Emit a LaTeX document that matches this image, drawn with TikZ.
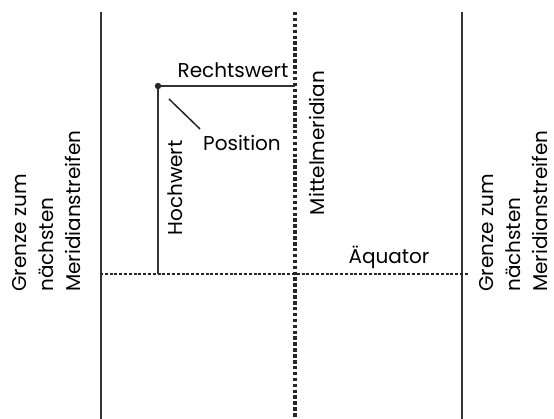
\documentclass[tikz,border=0pt]{standalone}
\usepackage{fontspec}
\setmainfont{Poppins}
\usetikzlibrary{positioning}

\begin{document}
\begin{tikzpicture}[
  x=1pt,y=-1pt,
  txt/.style={inner sep=0pt,font=\fontsize{20}{27}\selectfont},
  vtxt/.style={txt,rotate=90},
  grenze/.style={vtxt,align=left,anchor=north west},
  border/.style={line width=2.4pt,draw=black!80},
  meridian/.style={line width=4.5pt,dash pattern=on 3.5pt off 2.4pt,draw=black!85},
  equator/.style={line width=2.6pt,dash pattern=on 3pt off 1.8pt,draw=black!85},
  coord/.style={line width=2.2pt,draw=black!80}
]
\useasboundingbox (0,0) rectangle (554,419);

% zone borders and central meridian
\coordinate (ltop) at (101,12);
\coordinate (lbot) at (101,419);
\coordinate (rtop) at (462,12);
\coordinate (rbot) at (462,419);
\coordinate (mtop) at (295,12);
\coordinate (mbot) at (295,419);
\draw[border] (ltop) -- (lbot);
\draw[border] (rtop) -- (rbot);
\draw[meridian] (mtop) -- (mbot);

% equator
\coordinate (eqw) at (100,274);
\coordinate (eqe) at (468,274);
\draw[equator] (eqw) -- (eqe);

% position with easting / northing
\coordinate (pos) at (158,86);
\coordinate (posm) at (295,86);
\coordinate (pose) at (158,274);
\draw[coord] (pos) -- (posm);
\draw[coord] (pos) -- (pose);
\fill[black!85] (pos) circle (3.2pt);

\node[txt] (rw) at (233,70) {Rechtswert};
\node[vtxt] (hw) at (175,188) {Hochwert};
\node[txt] (poslbl) at (242,143) {Position};
\coordinate (leadA) at (169,99);
\coordinate (leadB) at (200,129);
\draw[line width=1.5pt,draw=black!85] (leadA) -- (leadB);

\node[vtxt] (mm) at (317,143) {Mittelmeridian};
\node[txt] (aeq) at (389,257) {Äquator};

% neighbouring zones
\node[grenze] (gl) at (12,292) {Grenze zum\\nächsten\\Meridianstreifen};
\node[grenze] (gr) at (479,292) {Grenze zum\\nächsten\\Meridianstreifen};
\end{tikzpicture}
\end{document}
